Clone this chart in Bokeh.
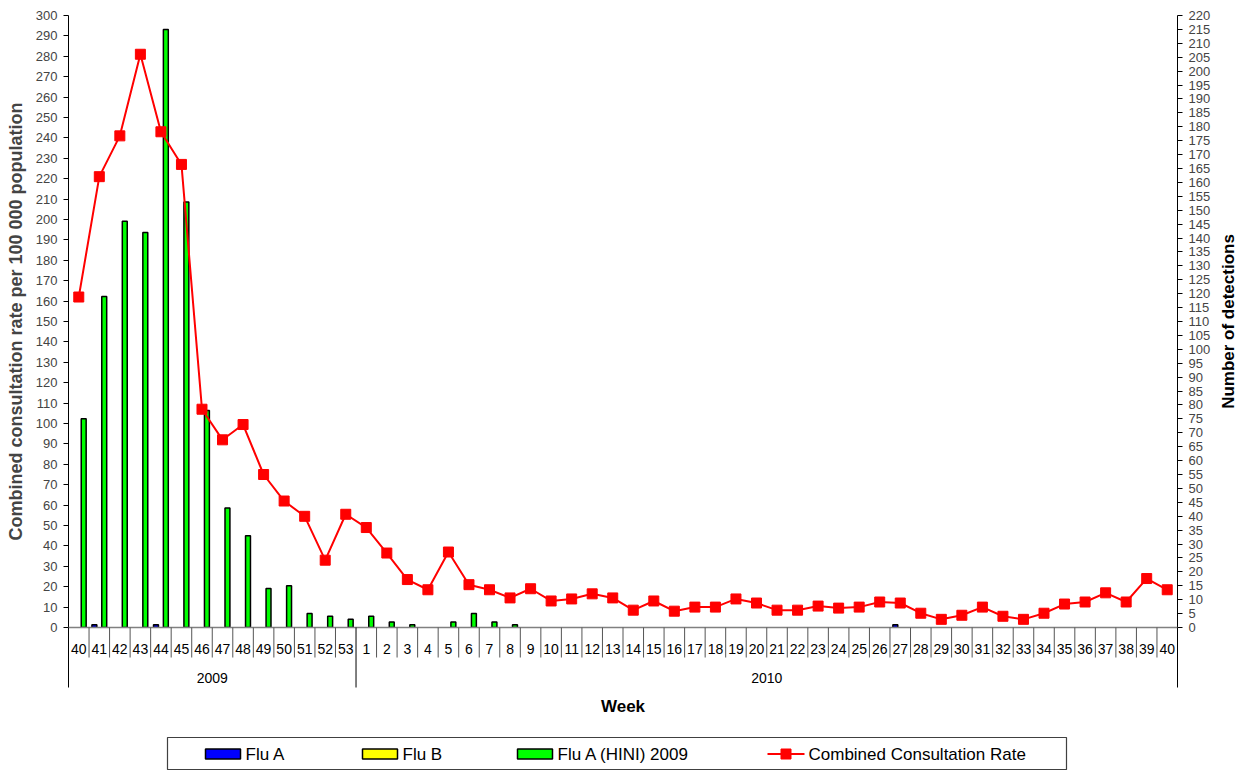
import numpy as np
from bokeh.plotting import figure
from bokeh.models import Range1d, LinearAxis, SingleIntervalTicker, ColumnDataSource
from bokeh.core.properties import value
from bokeh.embed import file_html
from bokeh.resources import INLINE

# ---------------- data ----------------
weeks_2009 = [40, 41, 42, 43, 44, 45, 46, 47, 48, 49, 50, 51, 52, 53]
weeks_2010 = [1, 2, 3, 4, 5, 6, 7, 8, 9, 10, 11, 12, 13, 14, 15, 16, 17, 18, 19, 20,
              21, 22, 23, 24, 25, 26, 27, 28, 29, 30, 31, 32, 33, 34, 35, 36, 37, 38, 39, 40]
year_labels = ["2009", "2010"]

flu_a = [0, 1, 0, 0, 1, 0, 0, 0, 0, 0, 0, 0, 0, 0,
         0, 0, 0, 0, 0, 0, 0, 0, 0, 0, 0, 0, 0, 0, 0, 0, 0, 0, 0, 0,
         0, 0, 0, 0, 0, 0, 1, 0, 0, 0, 0, 0, 0, 0, 0, 0, 0, 0, 0, 0]
flu_b = [0, 0, 0, 0, 0, 0, 0, 0, 0, 0, 0, 0, 0, 0,
         0, 0, 0, 0, 0, 0, 0, 0, 0, 0, 0, 0, 0, 0, 0, 0, 0, 0, 0, 0,
         0, 0, 0, 0, 0, 0, 0, 0, 0, 0, 0, 0, 0, 0, 0, 0, 0, 0, 0, 0]
flu_h1n1 = [75, 119, 146, 142, 215, 153, 78, 43, 33, 14, 15, 5, 4, 3,
            4, 2, 1, 0, 2, 5, 2, 1, 0, 0, 0, 0, 0, 0, 0, 0, 0, 0, 0, 0,
            0, 0, 0, 0, 0, 0, 0, 0, 0, 0, 0, 0, 0, 0, 0, 0, 0, 0, 0, 0]
consult_rate = [162, 221, 241, 281, 243, 227, 107, 92, 99.5, 75, 62, 54.5, 33, 55.5,
                49, 36.5, 23.5, 18.5, 37, 21, 18.5, 14.5, 19, 13, 14, 16.5, 14.5, 8.5,
                13, 8, 10, 10, 14, 12, 8.5, 8.5, 10.5, 9.5, 10, 12.5, 12, 7, 4, 6,
                10, 5.5, 4, 7, 11.5, 12.5, 17, 12.5, 24, 18.5]

week_labels = [str(w) for w in weeks_2009 + weeks_2010]
n = len(week_labels)
centers = np.arange(n) + 0.5

# ---------------- layout helpers (pixels -> data units) ----------------
W, H = 1240, 770
FL, FR, FT, FB = 68, 1177, 15, 627          # frame edges in pixels
XS = (FR - FL) / n                          # px per category
YS = (FB - FT) / 300.0                      # px per left-axis unit


def dx(px):
    return (px - FL) / XS


def dy(py):
    return (FB - py) / YS


FNAME = "Liberation Sans"
FONT = value(FNAME)

p = figure(width=W, height=H, output_backend="svg", toolbar_location=None, tools="",
           x_range=Range1d(0, n), y_range=Range1d(0, 300), x_axis_location=None,
           min_border_left=FL, min_border_right=W - FR, min_border_top=FT,
           min_border_bottom=H - FB)
p.extra_y_ranges = {"right": Range1d(0, 220)}
p.outline_line_color = None
p.xgrid.grid_line_color = None
p.ygrid.grid_line_color = None
p.background_fill_color = "white"

# left axis
ya = p.yaxis[0]
ya.ticker = SingleIntervalTicker(interval=10, num_minor_ticks=0)
ya.major_tick_in = 0
ya.major_tick_out = 5
ya.minor_tick_out = 0
ya.axis_line_color = "black"
ya.major_tick_line_color = "black"
ya.major_label_text_font = FNAME
ya.major_label_text_font_size = "13px"
ya.major_label_standoff = 6
ya.axis_label = "Combined consultation rate per 100 000 population"
ya.axis_label_text_font = FNAME
ya.axis_label_text_font_style = "bold"
ya.axis_label_text_font_size = "18px"
ya.axis_label_standoff = 7

# right axis
ra = LinearAxis(y_range_name="right",
                ticker=SingleIntervalTicker(interval=5, num_minor_ticks=0))
ra.major_tick_in = 0
ra.major_tick_out = 5
ra.minor_tick_out = 0
ra.axis_line_color = "black"
ra.major_label_text_font = FNAME
ra.major_label_text_font_size = "13px"
ra.major_label_standoff = 6
p.add_layout(ra, "right")

# right axis title (reads bottom to top, as in the reference)
p.text(x=[dx(1228)], y=[dy((FT + FB) / 2)], text=["Number of detections"],
       angle=np.pi / 2, text_font=FONT, text_font_size="17px", text_font_style="bold",
       text_align="center", text_baseline="middle", text_color="black",
       level="overlay")

# bars
BW = 0.24
series = [(flu_a, -BW, "#0000FF"), (flu_b, 0.0, "#FFFF00"), (flu_h1n1, BW, "#00FF00")]
for vals, off, col in series:
    xs = [c + off for c, v in zip(centers, vals) if v > 0]
    tops = [v for v in vals if v > 0]
    if xs:
        src = ColumnDataSource(dict(x=xs, top=tops))
        p.vbar(x="x", top="top", bottom=0, width=BW, source=src, y_range_name="right",
               fill_color=col, line_color="black", line_width=1.5)

# baseline (category axis line)
p.segment(x0=[0], y0=[0], x1=[n], y1=[0], line_color="#808080", line_width=1.5,
          level="overlay")

# consultation rate line
src_line = ColumnDataSource(dict(x=centers, y=consult_rate))
p.line(x="x", y="y", source=src_line, line_color="#FF0000", line_width=2)
p.scatter(x="x", y="y", source=src_line, marker="square", size=10,
          fill_color="#FF0000", line_color="#FF0000")

# category axis: separators
sep_x = list(range(0, n + 1))
long_sep = [0, len(weeks_2009), n]
short_x = [x for x in sep_x if x not in long_sep]
p.segment(x0=short_x, y0=[0] * len(short_x), x1=short_x, y1=[dy(657)] * len(short_x),
          line_color="#555555", line_width=1, level="overlay")
p.segment(x0=long_sep, y0=[0] * 3, x1=long_sep, y1=[dy(687)] * 3,
          line_color="black", line_width=1, level="overlay")

# week labels
p.text(x=list(centers), y=[dy(648)] * n, text=week_labels, text_font=FONT,
       text_font_size="14px", text_align="center", text_baseline="middle",
       text_color="black", level="overlay")
# year labels
year_x = [len(weeks_2009) / 2, len(weeks_2009) + len(weeks_2010) / 2]
p.text(x=year_x, y=[dy(677)] * 2, text=year_labels, text_font=FONT,
       text_font_size="14px", text_align="center", text_baseline="middle",
       text_color="black", level="overlay")
# axis title
p.text(x=[n / 2], y=[dy(706)], text=["Week"], text_font=FONT, text_font_size="17px",
       text_font_style="bold", text_align="center", text_baseline="middle",
       text_color="black", level="overlay")

# legend (drawn by hand to match the boxed layout)
LY0, LY1 = 737, 769
LYC = 753.5
p.quad(left=[dx(167)], right=[dx(1066)], top=[dy(LY0)], bottom=[dy(LY1)],
       fill_color="white", line_color="#404040", line_width=1.2, level="overlay")
leg_names = ["Flu A", "Flu B", "Flu A (HINI) 2009"]
leg_cols = ["#0000FF", "#FFFF00", "#00FF00"]
sw_left = [205, 362, 517]
p.quad(left=[dx(v) for v in sw_left], right=[dx(v + 35) for v in sw_left],
       top=[dy(LYC - 5)] * 3, bottom=[dy(LYC + 5)] * 3,
       fill_color=leg_cols, line_color="black", line_width=1.5, level="overlay")
p.text(x=[dx(v + 40) for v in sw_left], y=[dy(LYC)] * 3, text=leg_names,
       text_font=FONT, text_font_size="17px", text_align="left",
       text_baseline="middle", text_color="black", level="overlay")
p.segment(x0=[dx(767)], y0=[dy(LYC)], x1=[dx(804)], y1=[dy(LYC)],
          line_color="#FF0000", line_width=2, level="overlay")
p.quad(left=[dx(780.5)], right=[dx(790.5)], top=[dy(LYC - 5)], bottom=[dy(LYC + 5)],
       fill_color="#FF0000", line_color="#FF0000", line_width=1, level="overlay")
p.text(x=[dx(808)], y=[dy(LYC)], text=["Combined Consultation Rate"],
       text_font=FONT, text_font_size="17px", text_align="left",
       text_baseline="middle", text_color="black", level="overlay")

open("out.html", "w").write(file_html(p, INLINE))
